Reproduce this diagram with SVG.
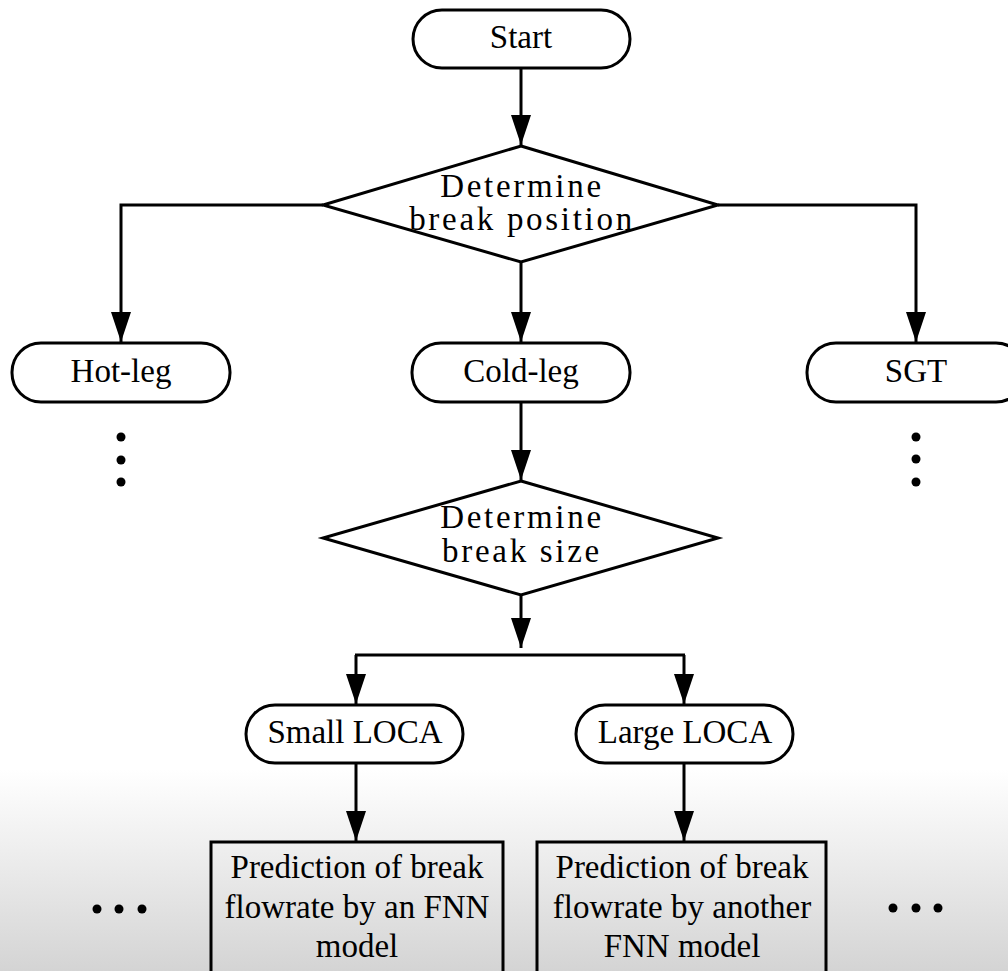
<svg xmlns="http://www.w3.org/2000/svg" width="1008" height="971" viewBox="0 0 1008 971">
<defs>
<linearGradient id="bg" x1="0" y1="770" x2="0" y2="971" gradientUnits="userSpaceOnUse">
<stop offset="0" stop-color="#ffffff"/>
<stop offset="0.4" stop-color="#eeeeee"/>
<stop offset="1" stop-color="#d4d4d4"/>
</linearGradient>
<marker id="ah" markerUnits="userSpaceOnUse" markerWidth="32" markerHeight="22" viewBox="0 0 32 22" refX="30" refY="11" orient="auto">
<path d="M0,1 L30,11 L0,21 Z" fill="#000"/>
</marker>
</defs>
<style>
.n{fill:none;stroke:#000;stroke-width:3}
.t{font-family:"Liberation Serif","Times New Roman",serif;font-size:33px;fill:#000;text-anchor:middle}
.d{letter-spacing:2.7px}
.c{fill:none;stroke:#000;stroke-width:3}
.dot{fill:#000}
</style>
<rect x="0" y="0" width="1008" height="971" fill="#fff"/>
<rect x="0" y="770" width="1008" height="201" fill="url(#bg)"/>

<g id="connectors">
<line class="c" x1="521" y1="68" x2="521" y2="145" marker-end="url(#ah)"/>
<polyline class="c" points="323,205 121,205 121,342" marker-end="url(#ah)"/>
<polyline class="c" points="718,205 916,205 916,342" marker-end="url(#ah)"/>
<line class="c" x1="521" y1="262" x2="521" y2="342" marker-end="url(#ah)"/>
<line class="c" x1="521" y1="402" x2="521" y2="480" marker-end="url(#ah)"/>
<line class="c" x1="521" y1="595" x2="521" y2="648" marker-end="url(#ah)"/>
<line class="c" x1="355" y1="655" x2="685" y2="655"/>
<line class="c" x1="356" y1="655" x2="356" y2="704" marker-end="url(#ah)"/>
<line class="c" x1="684" y1="655" x2="684" y2="704" marker-end="url(#ah)"/>
<line class="c" x1="356" y1="763" x2="356" y2="841" marker-end="url(#ah)"/>
<line class="c" x1="684" y1="763" x2="684" y2="841" marker-end="url(#ah)"/>
</g>

<g id="start">
<rect class="n" x="413" y="10" width="217" height="58" rx="29" ry="29"/>
<text class="t" x="521" y="48">Start</text>
</g>
<g id="decision-position">
<polygon class="n" points="521,146 718,205 521,262 323,205"/>
<text class="t d" x="522" y="197">Determine</text>
<text class="t d" x="522" y="230">break position</text>
</g>
<g id="hot-leg">
<rect class="n" x="12" y="343" width="218" height="59" rx="29" ry="29"/>
<text class="t" x="121" y="382">Hot-leg</text>
<circle class="dot" cx="121" cy="437" r="4.5"/>
<circle class="dot" cx="121" cy="460" r="4.5"/>
<circle class="dot" cx="121" cy="482" r="4.5"/>
</g>
<g id="cold-leg">
<rect class="n" x="412" y="343" width="218" height="59" rx="29" ry="29"/>
<text class="t" x="521" y="382">Cold-leg</text>
</g>
<g id="sgt">
<rect class="n" x="807" y="343" width="218" height="59" rx="29" ry="29"/>
<text class="t" x="916" y="382">SGT</text>
<circle class="dot" cx="916" cy="437" r="4.5"/>
<circle class="dot" cx="916" cy="459" r="4.5"/>
<circle class="dot" cx="916" cy="482" r="4.5"/>
</g>
<g id="decision-size">
<polygon class="n" points="521,481 718,538 521,595 323,538"/>
<text class="t d" x="522" y="528">Determine</text>
<text class="t d" x="522" y="562">break size</text>
</g>
<g id="small-loca">
<rect class="n" x="246" y="705" width="217" height="58" rx="29" ry="29"/>
<text class="t" x="355" y="743">Small LOCA</text>
</g>
<g id="large-loca">
<rect class="n" x="576" y="705" width="217" height="58" rx="29" ry="29"/>
<text class="t" x="685" y="743">Large LOCA</text>
</g>
<g id="fnn-small">
<rect class="n" x="211" y="842" width="292" height="150"/>
<text class="t" x="357" y="878">Prediction of break</text>
<text class="t" x="357" y="918">flowrate by an FNN</text>
<text class="t" x="357" y="957">model</text>
</g>
<g id="fnn-large">
<rect class="n" x="537" y="842" width="289" height="150"/>
<text class="t" x="682" y="878">Prediction of break</text>
<text class="t" x="682" y="918">flowrate by another</text>
<text class="t" x="682" y="957">FNN model</text>
</g>
<g id="more-left">
<circle class="dot" cx="97" cy="909" r="4.5"/>
<circle class="dot" cx="119" cy="909" r="4.5"/>
<circle class="dot" cx="142" cy="909" r="4.5"/>
</g>
<g id="more-right">
<circle class="dot" cx="893" cy="908" r="4.5"/>
<circle class="dot" cx="916" cy="908" r="4.5"/>
<circle class="dot" cx="938" cy="908" r="4.5"/>
</g>
</svg>
